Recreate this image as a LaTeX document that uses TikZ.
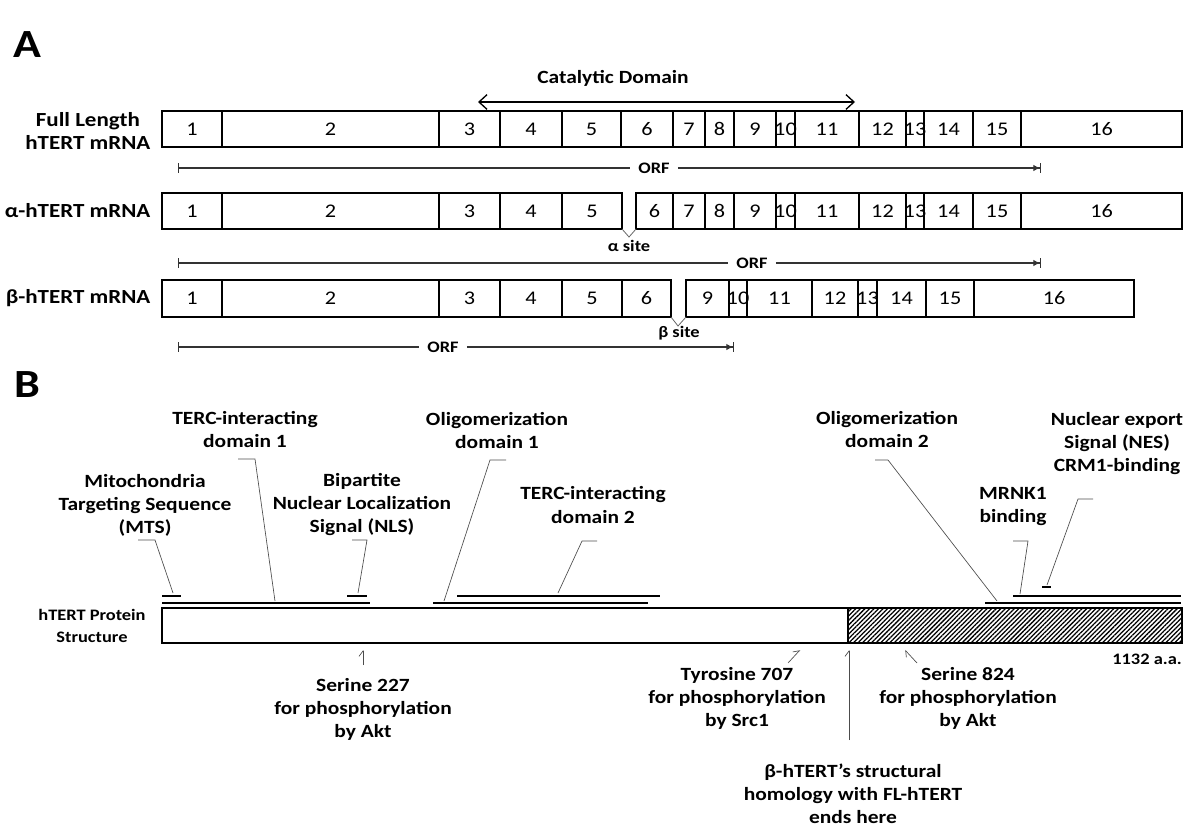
\documentclass[tikz,border=0pt]{standalone}
\usepackage{fontspec}
\setmainfont{Carlito}[FakeStretch=1.15, Numbers=Lining]
\usetikzlibrary{arrows.meta}
\usetikzlibrary{patterns.meta}
\usetikzlibrary{positioning}
\tikzset{exon/.style = {draw, line width=1.2pt}}
\tikzset{num/.style = {font=\fontsize{14.5}{17}\selectfont, inner sep=0}}
\tikzset{lbl/.style = {font=\bfseries\fontsize{14}{17.25}\selectfont, align=center, inner sep=1pt}}
\tikzset{rowlbl/.style = {font=\bfseries\fontsize{15}{17.25}\selectfont, align=center, inner sep=1pt}}
\tikzset{small/.style = {font=\bfseries\fontsize{12}{16.5}\selectfont, align=center, inner sep=1pt}}
\tikzset{panel/.style = {font=\bfseries\fontsize{30}{36}\selectfont}}
\tikzset{orf/.style = {draw=black!80, line width=0.8pt}}
\tikzset{site/.style = {draw=black!60, line width=0.6pt}}
\tikzset{dom/.style = {line width=1.6pt}}
\tikzset{callout/.style = {draw=black!70, line width=0.5pt}}
\tikzset{pointer/.style = {draw=black!70, line width=0.5pt, -{Straight Barb[harpoon, length=4pt, width=6pt]}}}

\begin{document}
\begin{tikzpicture}[x=0.75pt, y=-0.75pt]
  \useasboundingbox (0,0) rectangle (1194,831);

  % panel A: transcripts
  \node[panel] (pa) at (27,45) {A};
  \node[rowlbl, anchor=east] (flname) at (152,131) {Full Length\\hTERT mRNA};
  \node[rowlbl, anchor=east] (alname) at (152,211) {α-hTERT mRNA};
  \node[rowlbl, anchor=east] (bename) at (152,298) {β-hTERT mRNA};

  \node[lbl] (cat) at (613,78) {Catalytic Domain};
  \coordinate (catl) at (478,102);
  \coordinate (catr) at (855,102);
  \draw[line width=1pt, {Straight Barb[length=6pt, width=11pt]}-{Straight Barb[length=6pt, width=11pt]}] (catl) -- (catr);

  \foreach \a/\b/\n in {162/222/1, 222/439/2, 439/500/3, 500/562/4, 562/621/5, 621/673/6,
      673/705/7, 705/734/8, 734/776/9, 776/795/10, 795/859/11, 859/906/12, 906/924/13,
      924/973/14, 973/1021/15, 1021/1182/16}
  {
    \draw[exon] (\a,111) rectangle (\b,147);
    \node[num] (fl\n) at ({(\a+\b)/2},129) {\n};
  }

  \foreach \a/\b/\n in {162/222/1, 222/439/2, 439/500/3, 500/562/4, 562/622/5, 636/673/6,
      673/705/7, 705/734/8, 734/776/9, 776/795/10, 795/859/11, 859/906/12, 906/924/13,
      924/973/14, 973/1021/15, 1021/1182/16}
  {
    \draw[exon] (\a,193) rectangle (\b,229);
    \node[num] (al\n) at ({(\a+\b)/2},211) {\n};
  }

  \foreach \a/\b/\n in {162/222/1, 222/439/2, 439/500/3, 500/562/4, 562/622/5, 622/671/6,
      686/729/9, 729/747/10, 747/812/11, 812/858/12, 858/877/13, 877/926/14,
      926/974/15, 974/1134/16}
  {
    \draw[exon] (\a,280) rectangle (\b,317);
    \node[num] (be\n) at ({(\a+\b)/2},298) {\n};
  }

  % splice sites
  \draw[site] (622,229) -- (629,237) -- (636,229);
  \node[small] (asite) at (629,246) {α site};
  \draw[site] (671,317) -- (678,326) -- (686,317);
  \node[small] (bsite) at (679,333) {β site};

  % open reading frames
  \coordinate (orfas) at (178,168);
  \coordinate (orfae) at (1041,168);
  \node[small, inner sep=6pt] (orfa) at (654,168) {ORF};
  \draw[orf, {Bar[width=7pt]}-] (orfas) -- (orfa.west);
  \draw[orf, -{Latex[length=5pt, width=5pt]Bar[width=7pt]}] (orfa.east) -- (orfae);

  \coordinate (orfbs) at (178,263);
  \coordinate (orfbe) at (1041,263);
  \node[small, inner sep=6pt] (orfb) at (752,263) {ORF};
  \draw[orf, {Bar[width=7pt]}-] (orfbs) -- (orfb.west);
  \draw[orf, -{Latex[length=5pt, width=5pt]Bar[width=7pt]}] (orfb.east) -- (orfbe);

  \coordinate (orfcs) at (178,347);
  \coordinate (orfce) at (734,347);
  \node[small, inner sep=6pt] (orfc) at (443,347) {ORF};
  \draw[orf, {Bar[width=7pt]}-] (orfcs) -- (orfc.west);
  \draw[orf, -{Latex[length=5pt, width=5pt]Bar[width=7pt]}] (orfc.east) -- (orfce);

  % panel B: protein
  \node[panel] (pb) at (27,385) {B};
  \node[small] (prot) at (92,626) {hTERT Protein\\Structure};
  \fill[pattern={Lines[angle=45, distance=2.4pt, line width=0.95pt]}] (848,608) rectangle (1182,643);
  \draw[line width=1.4pt] (162,608) rectangle (1182,643);
  \draw[line width=1.4pt] (848,608) -- (848,643);
  \node[small, anchor=east, inner sep=0] (aa) at (1182,659) {1132 a.a.};

  % domains
  \draw[dom] (162,596) -- (181,596);
  \draw[dom] (162,603) -- (370,603);
  \draw[dom] (347,596) -- (367,596);
  \draw[dom] (433,603) -- (648,603);
  \draw[dom] (457,596) -- (660,596);
  \draw[dom] (985,603) -- (1181,603);
  \draw[dom] (1013,596) -- (1181,596);
  \draw[dom] (1042,587) -- (1051,587);

  \node[lbl] (mts) at (145,505) {Mitochondria\\Targeting Sequence\\(MTS)};
  \node[lbl] (tercone) at (245,430) {TERC-interacting\\domain 1};
  \node[lbl] (nls) at (362,505) {Bipartite\\Nuclear Localization\\Signal (NLS)};
  \node[lbl] (oligone) at (497,431) {Oligomerization\\domain 1};
  \node[lbl] (terctwo) at (593,505) {TERC-interacting\\domain 2};
  \node[lbl] (oligtwo) at (887,430) {Oligomerization\\domain 2};
  \node[lbl] (mrnk) at (1013,507) {MRNK1\\binding};
  \node[lbl] (nes) at (1117,444) {Nuclear export\\Signal (NES)\\CRM1-binding};

  \coordinate (mtsk) at (155,540);     \coordinate (mtsp) at (173,593);
  \coordinate (terconek) at (255,459); \coordinate (terconep) at (275,601);
  \coordinate (nlsk) at (367,540);     \coordinate (nlsp) at (358,593);
  \coordinate (oligonek) at (490,460); \coordinate (oligonep) at (444,601);
  \coordinate (terctwok) at (582,541); \coordinate (terctwop) at (558,593);
  \coordinate (oligtwok) at (888,460); \coordinate (oligtwop) at (997,601);
  \coordinate (mrnkk) at (1028,541);   \coordinate (mrnkp) at (1020,594);
  \coordinate (nesk) at (1078,499);    \coordinate (nesp) at (1047,585);

  \draw[callout] (138,540) -- (mtsk) -- (mtsp);
  \draw[callout] (238,459) -- (terconek) -- (terconep);
  \draw[callout] (352,540) -- (nlsk) -- (nlsp);
  \draw[callout] (506,460) -- (oligonek) -- (oligonep);
  \draw[callout] (597,541) -- (terctwok) -- (terctwop);
  \draw[callout] (875,460) -- (oligtwok) -- (oligtwop);
  \draw[callout] (1013,541) -- (mrnkk) -- (mrnkp);
  \draw[callout] (1093,499) -- (nesk) -- (nesp);

  % phosphorylation sites
  \node[lbl] (serone) at (363,709) {Serine 227\\for phosphorylation\\by Akt};
  \node[lbl] (tyr) at (737,698) {Tyrosine 707\\for phosphorylation\\by Src1};
  \node[lbl] (sertwo) at (968,698) {Serine 824\\for phosphorylation\\by Akt};
  \node[lbl] (homol) at (853,794) {β-hTERT’s structural\\homology with FL-hTERT\\ends here};

  \coordinate (seronep) at (363,650);
  \coordinate (tyrp) at (800,650);
  \coordinate (sertwop) at (905,650);
  \coordinate (homolp) at (849,650);
  \draw[pointer] (363,665) -- (seronep);
  \draw[pointer] (788,663) -- (tyrp);
  \draw[pointer] (917,663) -- (sertwop);
  \draw[pointer] (849,740) -- (homolp);
\end{tikzpicture}
\end{document}
